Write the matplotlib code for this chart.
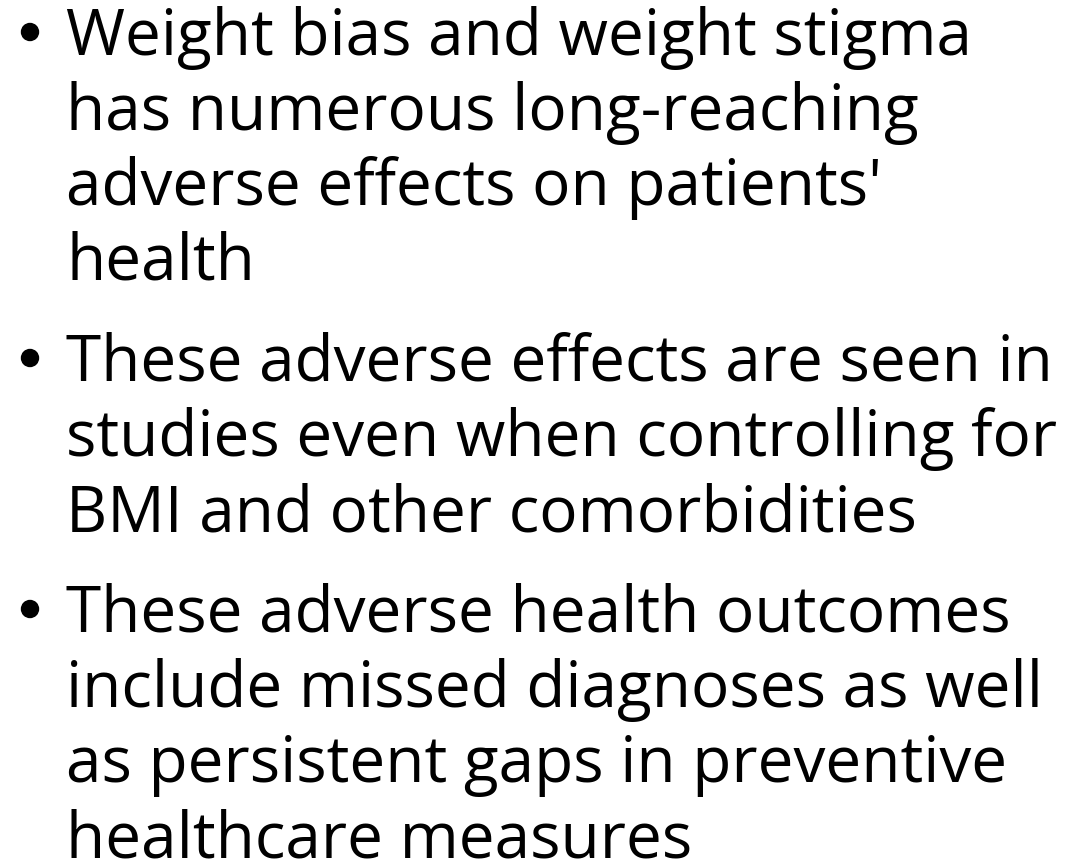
import matplotlib
matplotlib.use("Agg")
import matplotlib.pyplot as plt
from matplotlib.patches import Ellipse

# bullet text, one list per bullet, one string per rendered line
bullet_1 = ["Weight bias and weight stigma",
            "has numerous long-reaching",
            "adverse effects on patients'",
            "health"]
bullet_2 = ["These adverse effects are seen in",
            "studies even when controlling for",
            "BMI and other comorbidities"]
bullet_3 = ["These adverse health outcomes",
            "include missed diagnoses as well",
            "as persistent gaps in preventive",
            "healthcare measures"]
bullets = [bullet_1, bullet_2, bullet_3]

W, H = 1091, 861
fig = plt.figure(figsize=(W / 100, H / 100), dpi=100)
fig.patch.set_facecolor("white")

font = ["Open Sans", "DejaVu Sans"]
size = 46
line_gap = 75      # px between baselines
para_gap = 26      # extra px between bullets
text_x = 66
dot_x = 30
dot_d = 17         # bullet diameter, px

y = 55
for lines in bullets:
    # round bullet, centred about 23 px above the first baseline
    fig.add_artist(Ellipse((dot_x / W, 1 - (y - 23) / H), dot_d / W, dot_d / H,
                           transform=fig.transFigure, color="black"))
    for ln in lines:
        fig.text(text_x / W, 1 - y / H, ln, fontsize=size, family=font,
                 va="baseline", ha="left", color="black")
        y += line_gap
    y += para_gap

fig.savefig("out.png", dpi=100, facecolor="white")
